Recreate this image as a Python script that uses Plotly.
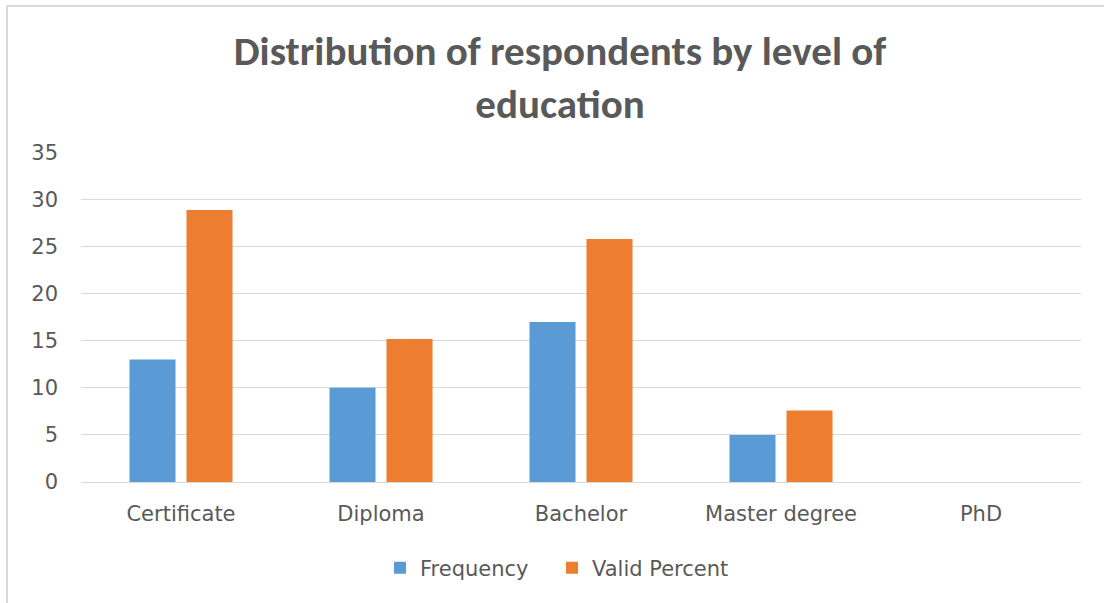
import plotly.graph_objects as go

categories = ["Certificate", "Diploma", "Bachelor", "Master degree", "PhD"]
frequency = [13, 10, 17, 5, 0]
valid_percent = [28.9, 15.2, 25.8, 7.6, 0]
y_ticks = [0, 5, 10, 15, 20, 25, 30, 35]
title_text = "Distribution of respondents by level of<br>education"

W, H = 1104, 603
ML, MR, MT, MB = 81, 23, 152, 121
pw = W - ML - MR
ph = H - MT - MB

fig = go.Figure()
fig.add_trace(go.Bar(name="Frequency", x=categories, y=frequency,
                     marker=dict(color="#5b9bd5", line=dict(width=0)), legend="legend"))
fig.add_trace(go.Bar(name="Valid Percent", x=categories, y=valid_percent,
                     marker=dict(color="#ed7d31", line=dict(width=0)), legend="legend2"))

txt = "#595959"
tick_font = dict(family="DejaVu Sans", size=21, color=txt)
title_font = dict(family="Carlito, Liberation Sans Narrow, Open Sans", size=41, color=txt)

def leg(xpx):
    return dict(orientation="h", x=(xpx - ML) / pw, xanchor="left",
                y=(482 - 568) / ph, yanchor="middle",
                font=tick_font, itemwidth=30, bgcolor="rgba(0,0,0,0)")

fig.update_layout(
    width=W, height=H,
    margin=dict(l=ML, r=MR, t=MT, b=MB, pad=0),
    paper_bgcolor="white", plot_bgcolor="white",
    barmode="group", bargap=0.43, bargroupgap=0.193,
    title=dict(text="<b>" + title_text + "</b>", xref="paper", x=(560 - ML) / pw, xanchor="center",
               yref="container", y=1 - 65 / H, yanchor="middle", font=title_font),
    font=dict(family="DejaVu Sans", color=txt, size=21),
    legend=leg(380),
    legend2=leg(552),
    showlegend=True,
    xaxis=dict(showgrid=False, showline=False, ticks="", tickfont=tick_font, ticklabelstandoff=17),
    yaxis=dict(range=[0, 35.05], tickvals=y_ticks, showgrid=True, gridcolor="#d9d9d9", gridwidth=1,
               zeroline=True, zerolinecolor="#d9d9d9", zerolinewidth=1,
               ticks="", tickfont=tick_font, ticklabelstandoff=22),
    shapes=[dict(type="rect", xref="paper", yref="paper",
                 x0=(7 - ML) / pw, x1=(W + 10 - ML) / pw,
                 y0=(482 - (H + 10)) / ph, y1=(482 - 6) / ph,
                 line=dict(color="#d9d9d9", width=2), fillcolor="rgba(0,0,0,0)", layer="below")],
)

fig.write_html("out.html")
